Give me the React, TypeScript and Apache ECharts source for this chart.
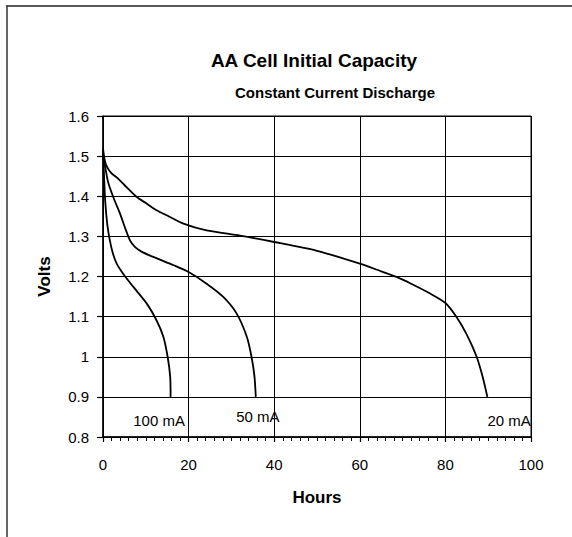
import React, { useEffect, useRef } from "react";
import * as echarts from "echarts";

const FONT = "'Liberation Sans', Arial, sans-serif";

const titleText = "AA Cell Initial Capacity";
const subtitleText = "Constant Current Discharge";
const xTicks = [0, 20, 40, 60, 80, 100];

const hours100 = [0, 0.25, 0.5, 1, 1.6, 2.3, 3.2, 4.7, 7.1, 10.2, 12.5, 14.1, 15.1, 15.7, 15.8];
const volts100 = [1.51, 1.45, 1.39, 1.33, 1.29, 1.258, 1.232, 1.207, 1.174, 1.133, 1.091, 1.05, 1.0, 0.95, 0.9];

const hours50 = [0, 0.4, 1.2, 2.5, 4, 5.2, 6.3, 7.5, 9, 11, 13.3, 16.5, 20, 24.2, 28.1, 31.2, 33.6, 34.7, 35.4, 35.7];
const volts50 = [1.505, 1.48, 1.435, 1.395, 1.356, 1.32, 1.29, 1.273, 1.262, 1.252, 1.242, 1.228, 1.211, 1.182, 1.149, 1.108, 1.05, 1.0, 0.95, 0.9];

const hours20 = [0, 0.4, 1, 2, 3.2, 5, 7.9, 10, 12.5, 15, 18.8, 24.2, 32, 40, 50, 60, 65, 68.6, 72, 76, 80, 82.6, 85, 87.3, 88.7, 89.8];
const volts20 = [1.52, 1.49, 1.472, 1.457, 1.447, 1.428, 1.398, 1.383, 1.365, 1.352, 1.332, 1.315, 1.302, 1.286, 1.264, 1.232, 1.213, 1.199, 1.182, 1.16, 1.134, 1.099, 1.055, 1.0, 0.95, 0.9];

const seriesNames = ["100 mA", "50 mA", "20 mA"];
// label anchor (data coords) for each curve's annotation
const labelHours = [13.1, 36.2, 94.9];
const labelVolts = [0.842, 0.85, 0.842];

const zip = (xs: number[], ys: number[]) => xs.map((x, i) => [x, ys[i]]);

export default function App() {
  const ref = useRef<HTMLDivElement>(null);
  useEffect(() => {
    if (!ref.current) return;
    const chart = echarts.init(ref.current, undefined, { renderer: "svg" });
    const curves = [zip(hours100, volts100), zip(hours50, volts50), zip(hours20, volts20)];
    chart.setOption({
      animation: false,
      backgroundColor: "#ffffff",
      textStyle: { fontFamily: FONT },
      grid: { left: 103, right: 41, top: 116, bottom: 100, show: true, borderColor: "#000", borderWidth: 1 },
      graphic: [
        { type: "line", shape: { x1: 6, y1: 6, x2: 572, y2: 6 }, style: { stroke: "#222", lineWidth: 1.5 } },
        { type: "line", shape: { x1: 7, y1: 6, x2: 7, y2: 537 }, style: { stroke: "#333", lineWidth: 1.5 } },
        {
          type: "text", x: 314, y: 60,
          style: { text: titleText, fontFamily: FONT, fontSize: 19, fontWeight: "bold", fill: "#000", textAlign: "center", textVerticalAlign: "middle" },
        },
        {
          type: "text", x: 335, y: 92,
          style: { text: subtitleText, fontFamily: FONT, fontSize: 15, fontWeight: "bold", fill: "#000", textAlign: "center", textVerticalAlign: "middle" },
        },
      ],
      xAxis: {
        type: "value",
        min: xTicks[0],
        max: xTicks[xTicks.length - 1],
        interval: 20,
        name: "Hours",
        nameLocation: "middle",
        nameGap: 52,
        nameTextStyle: { fontFamily: FONT, fontSize: 17, fontWeight: "bold", color: "#000" },
        axisLine: { show: true, onZero: false, lineStyle: { color: "#000", width: 1.5 } },
        axisTick: { show: true, length: 5, lineStyle: { color: "#000", width: 1.2 } },
        minorTick: { show: true, splitNumber: 10, length: 4, lineStyle: { color: "#000", width: 1 } },
        axisLabel: { fontFamily: FONT, fontSize: 15, color: "#000", margin: 20 },
        splitLine: { show: true, lineStyle: { color: "#000", width: 1 } },
      },
      yAxis: {
        type: "value",
        min: 0.8,
        max: 1.6,
        interval: 0.1,
        name: "Volts",
        nameLocation: "middle",
        nameRotate: 90,
        nameGap: 50,
        nameTextStyle: { fontFamily: FONT, fontSize: 17, fontWeight: "bold", color: "#000" },
        axisLine: { show: true, lineStyle: { color: "#000", width: 1.5 } },
        axisTick: { show: true, length: 6, lineStyle: { color: "#000", width: 1.2 } },
        axisLabel: {
          fontFamily: FONT, fontSize: 15, color: "#000", margin: 14,
          formatter: (v: number) => String(Math.round(v * 10) / 10),
        },
        splitLine: { show: true, lineStyle: { color: "#000", width: 1 } },
      },
      series: curves.map((data, i) => ({
        type: "line",
        name: seriesNames[i],
        data,
        showSymbol: false,
        symbol: "none",
        smooth: 0.25,
        lineStyle: { color: "#000", width: 1.8 },
        markPoint: {
          symbol: "circle",
          symbolSize: 0,
          data: [{ coord: [labelHours[i], labelVolts[i]], value: seriesNames[i] }],
          label: {
            show: true, position: "inside", formatter: seriesNames[i],
            fontFamily: FONT, fontSize: 15, color: "#000",
          },
        },
      })),
    });
    return () => chart.dispose();
  }, []);
  return (
    <div
      ref={ref}
      style={{ position: "fixed", left: 0, top: 0, width: 572, height: 537, background: "#fff" }}
    />
  );
}
